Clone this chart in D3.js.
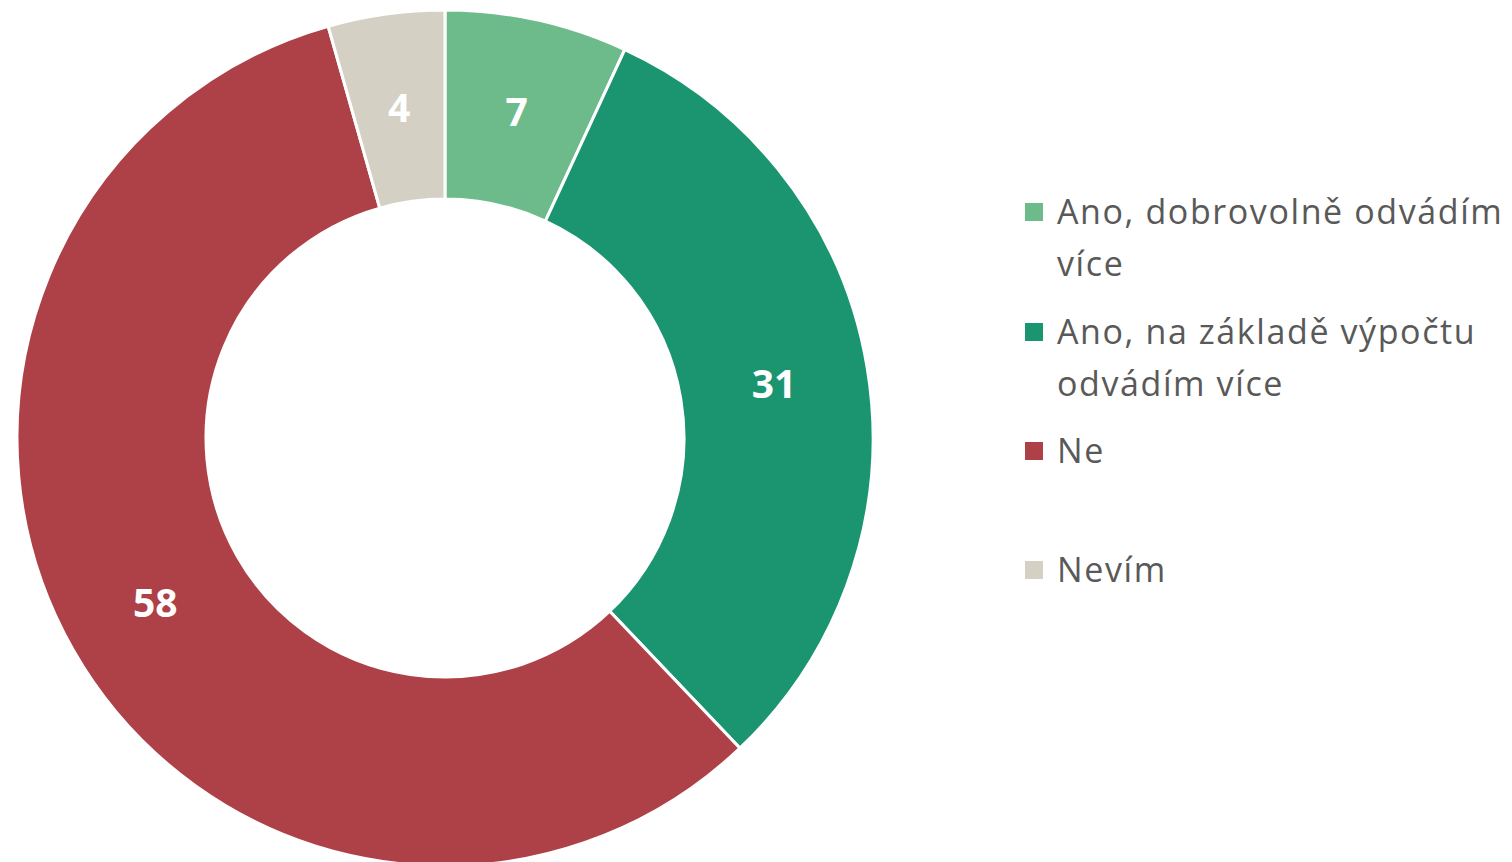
<!DOCTYPE html>
<html>
<head>
<meta charset="utf-8">
<script src="https://cdn.jsdelivr.net/npm/d3@7"></script>
<style>
  body { margin: 0; background: #fff; }
</style>
</head>
<body>
<div id="wrapper"></div>
<script>
// # Data
const categories = [
  "Ano, dobrovolně odvádím více",
  "Ano, na základě výpočtu odvádím více",
  "Ne",
  "Nevím",
];
const values = [6.9, 31.0, 57.7, 4.4];
const legendLines = [
  ["Ano, dobrovolně odvádím", "více"],
  ["Ano, na základě výpočtu", "odvádím více"],
  ["Ne"],
  ["Nevím"],
];
const colors = ["#6dbb8b", "#1b9470", "#ae4147", "#d4d0c4"];

function drawDonut() {
  const dimensions = {
    width: 1512,
    height: 862,
    cx: 445,
    cy: 438,
    outerRadius: 428,
    innerRadius: 239,
  };

  const wrapper = d3.select("#wrapper")
    .append("svg")
    .attr("width", dimensions.width)
    .attr("height", dimensions.height);

  const bounds = wrapper.append("g")
    .attr("transform", `translate(${dimensions.cx}, ${dimensions.cy})`);

  const data = categories.map((c, i) => ({ category: c, value: values[i], color: colors[i] }));

  const pie = d3.pie()
    .value(d => d.value)
    .sort(null);

  const arc = d3.arc()
    .innerRadius(dimensions.innerRadius)
    .outerRadius(dimensions.outerRadius);

  const arcs = pie(data);

  bounds.selectAll("path")
    .data(arcs)
    .join("path")
    .attr("d", arc)
    .attr("fill", d => d.data.color)
    .attr("stroke", "#fff")
    .attr("stroke-width", 3);

  const fmt = d3.format(".0f");

  bounds.selectAll("text.value")
    .data(arcs)
    .join("text")
    .attr("class", "value")
    .attr("transform", d => `translate(${arc.centroid(d)})`)
    .attr("text-anchor", "middle")
    .attr("dy", "0.36em")
    .attr("fill", "#fff")
    .style("font-family", "'Open Sans', sans-serif")
    .style("font-weight", "bold")
    .style("font-size", "39px")
    .text(d => fmt(d.data.value));

  // # Legend
  const legend = wrapper.append("g")
    .attr("transform", "translate(1025, 0)");

  const rowY = [212, 332, 451, 570];
  const lineHeight = 52;

  const items = legend.selectAll("g")
    .data(data)
    .join("g")
    .attr("transform", (d, i) => `translate(0, ${rowY[i]})`);

  items.append("rect")
    .attr("x", 0)
    .attr("y", -9)
    .attr("width", 18)
    .attr("height", 18)
    .attr("fill", d => d.color);

  items.append("text")
    .attr("x", 32)
    .attr("y", 0)
    .attr("fill", "#595959")
    .style("font-family", "'Open Sans', sans-serif")
    .style("font-size", "34px")
    .style("letter-spacing", "1.6px")
    .selectAll("tspan")
    .data((d, i) => legendLines[i])
    .join("tspan")
    .attr("x", 32)
    .attr("y", (d, j) => 12 + j * lineHeight)
    .text(d => d);
}
drawDonut();
</script>
</body>
</html>
